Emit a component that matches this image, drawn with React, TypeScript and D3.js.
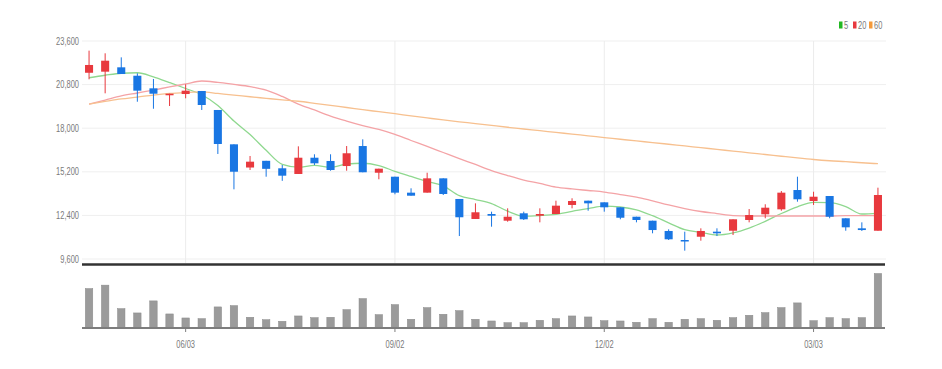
import React from "react";
import * as d3 from "d3";

const dates = [
  "2024-04-22","2024-04-29","2024-05-06","2024-05-13","2024-05-20","2024-05-27","2024-06-03","2024-06-10","2024-06-17","2024-06-24",
  "2024-07-01","2024-07-08","2024-07-15","2024-07-22","2024-07-29","2024-08-05","2024-08-12","2024-08-19","2024-08-26","2024-09-02",
  "2024-09-09","2024-09-16","2024-09-23","2024-09-30","2024-10-07","2024-10-14","2024-10-21","2024-10-28","2024-11-04","2024-11-11",
  "2024-11-18","2024-11-25","2024-12-02","2024-12-09","2024-12-16","2024-12-23","2024-12-30","2025-01-06","2025-01-13","2025-01-20",
  "2025-01-27","2025-02-03","2025-02-10","2025-02-17","2025-02-24","2025-03-03","2025-03-10","2025-03-17","2025-03-24","2025-03-31",
];

const opens = [21560,21630,21910,21370,20560,20115,20195,20390,19170,16965,15475,15905,15425,15060,16105,15895,15570,16855,15140,14885,13860,13860,14780,13455,12170,12490,12060,12535,12380,12490,13070,13345,13240,12920,12315,12060,11400,10820,11030,11355,11415,12105,12470,12790,14030,13325,13645,12215,11570,11415];
const highs = [22980,22810,22550,21525,21160,20215,20820,20390,19170,16965,16215,15905,15635,16835,16325,16325,16855,17285,15400,14885,14140,15140,14780,13455,13175,12640,12855,12640,12855,13345,13500,13345,13240,12920,12315,12060,11505,11355,11570,11570,12150,12810,13115,13965,14885,13920,13645,12215,11955,14180];
const lows = [21140,20240,21480,19700,19250,19425,19920,19170,16345,14075,15315,14885,14620,15060,15635,15270,15270,15170,14720,13755,13665,13860,13710,11075,12170,11675,11995,12105,11955,12490,12855,12700,12640,12150,11955,11250,10820,10135,10775,11075,11140,11955,12215,12700,13280,13070,12215,11415,11400,11415];
const closes = [22060,22335,21480,20410,20215,20215,20410,19490,16985,15205,15850,15390,14950,16105,15745,15315,16390,15170,15400,13860,13665,14780,13775,12280,12600,12380,12315,12150,12490,13025,13325,13175,12920,12250,12105,11460,10865,10735,11400,11250,12150,12425,12895,13860,13435,13600,12315,11635,11460,13710];
const volumes = [393,427,193,150,270,140,100,93,210,223,107,83,67,120,103,107,183,293,133,233,87,203,137,173,87,70,53,53,77,93,120,110,73,70,57,93,57,87,93,77,103,127,153,203,250,73,103,93,103,543];

const ma5 = [21240,21400,21530,21560,21300,20930,20550,20150,19460,18460,17590,16580,15680,15500,15610,15500,15700,15750,15600,15230,14900,14580,14300,13670,13420,13160,12670,12350,12390,12470,12660,12830,12990,12940,12760,12380,11920,11480,11310,11140,11280,11590,12020,12520,12950,13240,13220,12970,12490,12550];
const ma20 = [19550,19810,20070,20260,20450,20650,20840,21030,20940,20810,20670,20450,20040,19550,19170,18780,18460,18170,17920,17600,17210,16830,16440,16050,15670,15280,14960,14670,14450,14220,14100,14000,13900,13740,13580,13330,13070,12840,12650,12520,12390,12360,12360,12360,12360,12360,12360,12390,12390,12390];
const ma60 = [19550,19720,19880,20000,20130,20230,20290,20330,20230,20130,20020,19920,19820,19730,19600,19460,19330,19190,19060,18930,18790,18660,18530,18410,18300,18180,18060,17950,17840,17730,17620,17510,17400,17290,17180,17080,16970,16860,16750,16640,16530,16420,16310,16200,16090,15990,15910,15850,15780,15720];

const priceTicks = [23600, 20800, 18000, 15200, 12400, 9600];
const tickDates = ["2024-06-03", "2024-09-02", "2024-12-02", "2025-03-03"];
const tickLabels = ["06/03", "09/02", "12/02", "03/03"];
const legendNames = ["5", "20", "60"];

const W = 942;
const H = 369;
const FONT = "'Liberation Sans', Arial, sans-serif";
const SX = 0.75;

function NarrowText(props: { x: number; y: number; anchor?: string; size?: number; fill?: string; children: React.ReactNode }) {
  const { x, y, anchor = "start", size = 10, fill = "#7a7a7a", children } = props;
  return (
    <text transform={`translate(${x},${y}) scale(${SX},1)`} textAnchor={anchor} fontSize={size} fill={fill}>
      {children}
    </text>
  );
}

export default function App() {
  const left = 81;
  const right = 886;
  const x = d3.scaleBand<string>().domain(dates).range([left, right]).paddingInner(0.5).paddingOuter(0.25);
  const bw = x.bandwidth();
  const xc = (d: string) => (x(d) as number) + bw / 2;
  const y = d3.scaleLinear().domain([9600, 23600]).range([259, 41]);
  const volBase = 328;
  const vy = d3.scaleLinear().domain([0, d3.max(volumes) as number]).range([volBase, volBase - 54.5]);

  const line = d3
    .line<number>()
    .x((_, i) => xc(dates[i]))
    .y((d) => y(d))
    .curve(d3.curveMonotoneX);

  const up = "#e8393e";
  const down = "#1976e3";
  const maColors = ["#8fd88f", "#f4a3a6", "#f7c08f"];
  const legendColors = ["#22b822", "#e8393e", "#f59a3a"];
  const maData = [ma5, ma20, ma60];

  const legendX = [839, 853, 869];

  return (
    <div style={{ position: "absolute", left: 0, top: 0 }}>
      <svg width={W} height={H} style={{ display: "block", background: "#fff" }} fontFamily={FONT}>
        {priceTicks.map((t) => (
          <line key={t} x1={left + 1} x2={right} y1={y(t)} y2={y(t)} stroke="#efefef" strokeWidth={1} />
        ))}
        {tickDates.map((d) => (
          <line key={d} x1={xc(d)} x2={xc(d)} y1={41} y2={263} stroke="#ececec" strokeWidth={1} />
        ))}
        {priceTicks.map((t) => (
          <NarrowText key={"l" + t} x={79} y={y(t) + 3.5} anchor="end">
            {d3.format(",")(t)}
          </NarrowText>
        ))}
        {maData.map((arr, k) => (
          <path key={k} d={line(arr) || ""} fill="none" stroke={maColors[k]} strokeWidth={1.3} />
        ))}
        {dates.map((d, i) => {
          const o = opens[i];
          const c = closes[i];
          const col = c >= o ? up : down;
          const top = y(Math.max(o, c));
          const bot = y(Math.min(o, c));
          return (
            <g key={d}>
              <line x1={xc(d)} x2={xc(d)} y1={y(highs[i])} y2={y(lows[i])} stroke={col} strokeWidth={1} />
              <rect x={x(d)} y={top} width={bw} height={Math.max(1.5, bot - top)} fill={col} />
            </g>
          );
        })}
        <line x1={left + 1} x2={right - 1} y1={264.5} y2={264.5} stroke="#333" strokeWidth={2.5} />
        {dates.map((d, i) => (
          <rect
            key={"v" + d}
            x={(x(d) as number) + 0.3}
            y={vy(volumes[i])}
            width={bw - 0.6}
            height={volBase - vy(volumes[i])}
            fill="#9b9b9b"
            stroke="#8a8a8a"
            strokeWidth={0.5}
          />
        ))}
        <line x1={left + 1} x2={right - 1} y1={volBase} y2={volBase} stroke="#7d7d7d" strokeWidth={1.8} />
        {tickDates.map((d, i) => (
          <g key={"t" + d}>
            <line x1={xc(d)} x2={xc(d)} y1={volBase} y2={volBase + 4} stroke="#7d7d7d" strokeWidth={1} />
            <NarrowText x={xc(d)} y={348} anchor="middle">
              {tickLabels[i]}
            </NarrowText>
          </g>
        ))}
        {legendNames.map((n, k) => (
          <g key={"lg" + n}>
            <rect x={legendX[k]} y={21.5} width={3.5} height={7} fill={legendColors[k]} />
            <NarrowText x={legendX[k] + 5} y={28.5}>
              {n}
            </NarrowText>
          </g>
        ))}
      </svg>
    </div>
  );
}
